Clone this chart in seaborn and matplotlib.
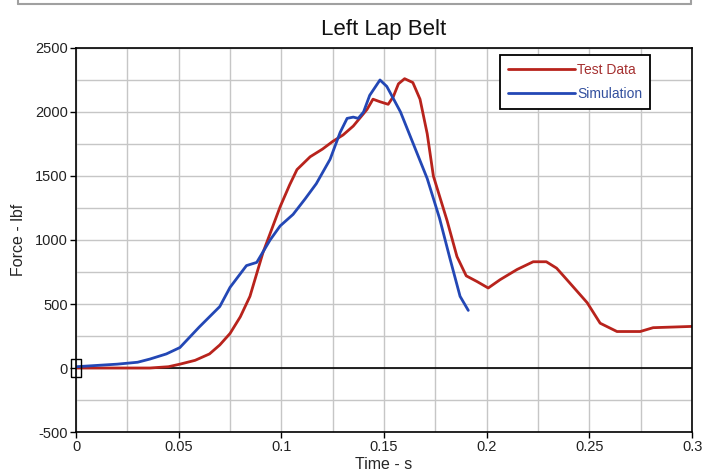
'''
Left lap belt force: test vs simulation
'''

import numpy as np
import pandas as pd
import seaborn as sns
import matplotlib.pyplot as plt
from matplotlib.lines import Line2D

# Test data (red)
test_time = [0.0, 0.02, 0.036, 0.045, 0.0506, 0.058, 0.065, 0.070, 0.075, 0.080, 0.0847,
             0.091, 0.0994, 0.104, 0.1076, 0.114, 0.120, 0.125, 0.130, 0.135, 0.1417,
             0.1446, 0.148, 0.152, 0.1545, 0.157, 0.160, 0.164, 0.1675, 0.171, 0.174,
             0.1807, 0.1855, 0.190, 0.1953, 0.2007, 0.2065, 0.2148, 0.2226, 0.229, 0.234,
             0.239, 0.2489, 0.2552, 0.2634, 0.2747, 0.281, 0.2907, 0.300]
test_force = [0, 0, 0, 10, 30, 60, 110, 180, 270, 400, 560,
              900, 1260, 1430, 1550, 1650, 1710, 1770, 1820, 1890, 2020,
              2100, 2080, 2060, 2120, 2220, 2260, 2230, 2100, 1830, 1500,
              1150, 870, 720, 675, 625, 690, 770, 830, 830, 780,
              690, 510, 350, 285, 285, 315, 320, 325]

# Simulation (blue)
sim_time = [0.0, 0.01, 0.02, 0.03, 0.036, 0.044, 0.0506, 0.060, 0.070, 0.075, 0.083, 0.088,
            0.0945, 0.0994, 0.1057, 0.1115, 0.117, 0.1237, 0.1286, 0.132, 0.135, 0.1374,
            0.140, 0.143, 0.148, 0.1513, 0.154, 0.158, 0.164, 0.171, 0.177, 0.182, 0.187, 0.191]
sim_force = [10, 20, 30, 45, 70, 110, 160, 320, 480, 630, 800, 825,
             1000, 1110, 1200, 1320, 1440, 1630, 1840, 1950, 1960, 1950,
             2000, 2130, 2250, 2200, 2120, 2000, 1760, 1480, 1170, 860, 560, 450]

x_ticks = [0, 0.05, 0.1, 0.15, 0.2, 0.25, 0.3]
x_labels = ['0', '0.05', '0.1', '0.15', '0.2', '0.25', '0.3']
y_ticks = [-500, 0, 500, 1000, 1500, 2000, 2500]

RED = '#b8231c'
BLUE = '#2347b5'

sns.set_style('whitegrid')
plt.rcParams['font.family'] = ['Liberation Sans', 'DejaVu Sans']
plt.rcParams['axes.unicode_minus'] = False

df = pd.concat([
    pd.DataFrame({'Time': test_time, 'Force': test_force, 'Series': 'Test Data'}),
    pd.DataFrame({'Time': sim_time, 'Force': sim_force, 'Series': 'Simulation'}),
])

fig = plt.figure(figsize=(7.07, 4.75), dpi=100)
ax = fig.add_axes([0.1075, 0.0905, 0.8715, 0.8085])

sns.lineplot(data=df, x='Time', y='Force', hue='Series', palette=[RED, BLUE],
             linewidth=2, ax=ax, sort=False, estimator=None)

ax.axhline(0, color='black', lw=1.2, zorder=1)
# little box marker at the origin
ax.plot([0], [0], marker=[(-0.5, -1), (0.5, -1), (0.5, 1), (-0.5, 1), (-0.5, -1)],
        markersize=13, mfc='none', mec='black', mew=1, clip_on=False, zorder=5)

ax.set_xlim(0, 0.3)
ax.set_ylim(-500, 2500)
ax.set_xticks(x_ticks)
ax.set_xticklabels(x_labels)
ax.set_yticks(y_ticks)
ax.set_xticks(np.arange(0, 0.3001, 0.025), minor=True)
ax.set_yticks(np.arange(-500, 2501, 250), minor=True)
ax.grid(which='both', color='#c6c6c6', lw=1)
ax.tick_params(which='major', direction='out', length=4, width=1, color='black',
               labelsize=10.5, labelcolor='#222222', left=True, bottom=True, pad=2)
ax.tick_params(which='minor', length=0)
for s in ax.spines.values():
    s.set_color('black')
    s.set_linewidth(1.2)

ax.set_title('Left Lap Belt', fontsize=16, pad=9, color='#111111')
ax.set_xlabel('Time - s', fontsize=11.5, labelpad=2)
ax.set_ylabel('Force - lbf', fontsize=11.5, labelpad=6)

leg = ax.legend(loc='upper right', bbox_to_anchor=(0.932, 0.982), borderaxespad=0,
                frameon=True, fancybox=False, fontsize=10, handlelength=4.8,
                labelspacing=0.75, borderpad=0.55, handletextpad=0.2)
leg.get_frame().set_edgecolor('black')
leg.get_frame().set_linewidth(1.3)
leg.get_frame().set_alpha(1)
for t, c in zip(leg.get_texts(), ['#a53030', '#33509e']):
    t.set_color(c)

# remains of a panel frame at the top of the picture
fig.add_artist(Line2D([18 / 707, 691 / 707], [1 - 4 / 475, 1 - 4 / 475],
                      color='#a0a0a0', lw=1.5))
fig.add_artist(Line2D([18 / 707, 18 / 707], [1 - 4 / 475, 1], color='#a0a0a0', lw=1.5))
fig.add_artist(Line2D([691 / 707, 691 / 707], [1 - 4 / 475, 1], color='#a0a0a0', lw=1.5))

plt.savefig('out.png', dpi=100)
